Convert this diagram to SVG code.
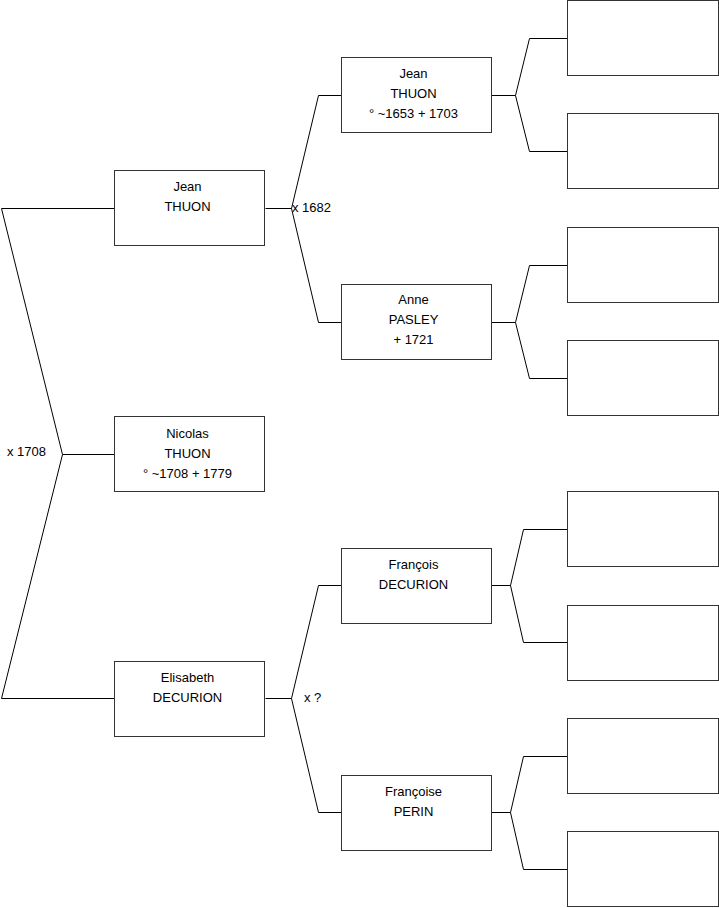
<svg xmlns="http://www.w3.org/2000/svg" width="719" height="908" viewBox="0 0 719 908">
<style>
.box{fill:#fff;stroke:#333;stroke-width:1}
.t{font-family:"Liberation Sans",Arial,sans-serif;font-size:13px;fill:#000;text-anchor:middle}
.l{font-family:"Liberation Sans",Arial,sans-serif;font-size:13px;fill:#000}
.c{fill:none;stroke:#000;stroke-width:1}
</style>
<rect width="719" height="908" fill="#fff"/>
<g id="connectors">
<polyline class="c" points="114.5,208.5 1.5,208.5 62.5,454.5 1.5,698.5 114.5,698.5"/>
<line class="c" x1="62.5" y1="454.5" x2="114.5" y2="454.5"/>
<polyline class="c" points="341.5,95.5 318.5,95.5 291.5,208.5 318.5,322.5 341.5,322.5"/>
<line class="c" x1="265.5" y1="208.5" x2="291.5" y2="208.5"/>
<polyline class="c" points="341.5,585.5 318.5,585.5 291.5,698.5 318.5,812.5 341.5,812.5"/>
<line class="c" x1="265.5" y1="698.5" x2="291.5" y2="698.5"/>
<polyline class="c" points="567.5,38.5 529.5,38.5 515.5,95.5 529.5,151.5 567.5,151.5"/>
<line class="c" x1="491.5" y1="95.5" x2="515.5" y2="95.5"/>
<polyline class="c" points="567.5,265.5 529.5,265.5 515.5,322.5 529.5,378.5 567.5,378.5"/>
<line class="c" x1="491.5" y1="322.5" x2="515.5" y2="322.5"/>
<polyline class="c" points="567.5,529.5 523.5,529.5 510.5,585.5 523.5,642.5 567.5,642.5"/>
<line class="c" x1="491.5" y1="585.5" x2="510.5" y2="585.5"/>
<polyline class="c" points="567.5,756.5 523.5,756.5 510.5,812.5 523.5,869.5 567.5,869.5"/>
<line class="c" x1="491.5" y1="812.5" x2="510.5" y2="812.5"/>
<text class="l" x="7" y="456">x 1708</text>
<text class="l" x="292" y="212">x 1682</text>
<text class="l" x="304" y="702">x ?</text>
</g>
<g id="nicolas"><rect class="box" x="114.5" y="416.5" width="150" height="75"/>
<text class="t" x="187.5" y="438">Nicolas</text><text class="t" x="187.5" y="458">THUON</text><text class="t" x="187.5" y="478">° ~1708 + 1779</text></g>
<g id="jean1"><rect class="box" x="114.5" y="170.5" width="150" height="75"/>
<text class="t" x="187.5" y="191">Jean</text><text class="t" x="187.5" y="211">THUON</text></g>
<g id="elisabeth"><rect class="box" x="114.5" y="661.5" width="150" height="75"/>
<text class="t" x="187.5" y="682">Elisabeth</text><text class="t" x="187.5" y="702">DECURION</text></g>
<g id="jean2"><rect class="box" x="341.5" y="57.5" width="150" height="75"/>
<text class="t" x="413.5" y="78">Jean</text><text class="t" x="413.5" y="98">THUON</text><text class="t" x="413.5" y="118">° ~1653 + 1703</text></g>
<g id="anne"><rect class="box" x="341.5" y="284.5" width="150" height="75"/>
<text class="t" x="413.5" y="304">Anne</text><text class="t" x="413.5" y="324">PASLEY</text><text class="t" x="413.5" y="344">+ 1721</text></g>
<g id="francois"><rect class="box" x="341.5" y="548.5" width="150" height="75"/>
<text class="t" x="413.5" y="569">François</text><text class="t" x="413.5" y="589">DECURION</text></g>
<g id="francoise"><rect class="box" x="341.5" y="775.5" width="150" height="75"/>
<text class="t" x="413.5" y="796">Françoise</text><text class="t" x="413.5" y="816">PERIN</text></g>
<g id="g3a"><rect class="box" x="567.5" y="0.5" width="151" height="75"/></g>
<g id="g3b"><rect class="box" x="567.5" y="113.5" width="151" height="75"/></g>
<g id="g3c"><rect class="box" x="567.5" y="227.5" width="151" height="75"/></g>
<g id="g3d"><rect class="box" x="567.5" y="340.5" width="151" height="75"/></g>
<g id="g3e"><rect class="box" x="567.5" y="491.5" width="151" height="75"/></g>
<g id="g3f"><rect class="box" x="567.5" y="605.5" width="151" height="75"/></g>
<g id="g3g"><rect class="box" x="567.5" y="718.5" width="151" height="75"/></g>
<g id="g3h"><rect class="box" x="567.5" y="831.5" width="151" height="75"/></g>
</svg>
